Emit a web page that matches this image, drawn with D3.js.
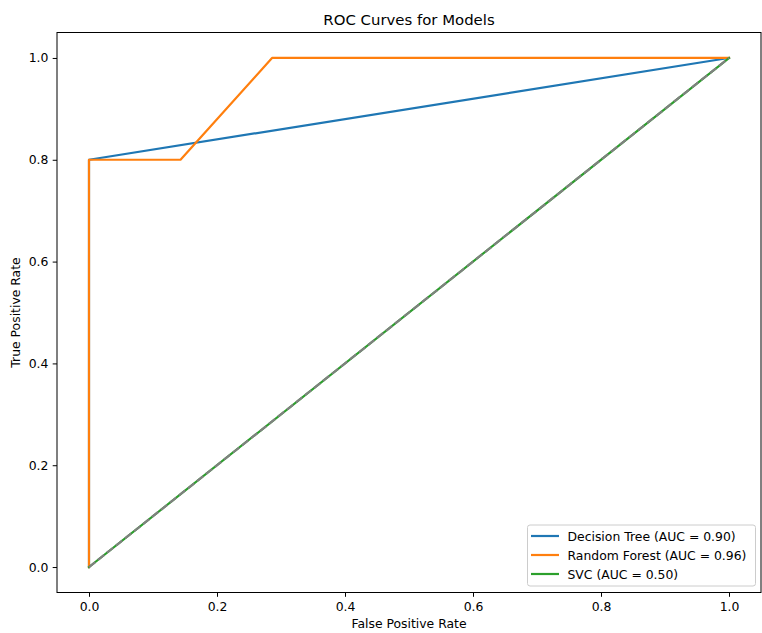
<!DOCTYPE html>
<html>
<head>
<meta charset="utf-8">
<script src="https://cdn.jsdelivr.net/npm/d3@7"></script>
<style>
  body { margin: 0; background: #fff; }
  text { font-family: "DejaVu Sans", sans-serif; fill: #000; }
</style>
</head>
<body>
<svg class="rocSVG" width="762" height="633"></svg>
<script>
// model curves
const modelNames = ['Decision Tree', 'Random Forest', 'SVC'];
const modelAUC = [0.90, 0.96, 0.50];
const modelColors = ['#1f77b4', '#ff7f0e', '#2ca02c'];
const dtFPR = [0, 0, 1];
const dtTPR = [0, 0.8, 1];
const rfFPR = [0, 0, 0.143, 0.286, 1];
const rfTPR = [0, 0.8, 0.8, 1, 1];
const svcFPR = [0, 1];
const svcTPR = [0, 1];
const chanceFPR = [0, 1];
const chanceTPR = [0, 1];
const tickVals = [0, 0.2, 0.4, 0.6, 0.8, 1.0];

const curves = [
  { fpr: dtFPR, tpr: dtTPR },
  { fpr: rfFPR, tpr: rfTPR },
  { fpr: svcFPR, tpr: svcTPR }
];

const margin = { left: 57, right: 1, top: 32.5, bottom: 40.5 };
const width = 762, height = 633;
const fs = 12.4;

const svg = d3.select('svg.rocSVG');

const x = d3.scaleLinear()
    .domain([-0.05, 1.05])
    .range([margin.left, width - margin.right]);

const y = d3.scaleLinear()
    .domain([-0.05, 1.05])
    .range([height - margin.bottom, margin.top]);

const line = d3.line()
    .x(d => x(d[0]))
    .y(d => y(d[1]));

// clip to axes area
svg.append('clipPath').attr('id', 'plotClip')
  .append('rect')
  .attr('x', x(-0.05)).attr('y', y(1.05))
  .attr('width', x(1.05) - x(-0.05))
  .attr('height', y(-0.05) - y(1.05));

const plotGrp = svg.append('g').attr('clip-path', 'url(#plotClip)');

curves.forEach((c, i) => {
  plotGrp.append('path')
    .attr('d', line(c.fpr.map((v, j) => [v, c.tpr[j]])))
    .style('fill', 'none')
    .style('stroke', modelColors[i])
    .style('stroke-width', 2.2)
    .style('stroke-linejoin', 'round')
    .style('stroke-linecap', 'square');
});

// chance line
plotGrp.append('path')
  .attr('d', line(chanceFPR.map((v, j) => [v, chanceTPR[j]])))
  .style('fill', 'none')
  .style('stroke', 'gray')
  .style('stroke-width', 2.2)
  .style('stroke-dasharray', '8,3.5');

// axes
const xAxis = d3.axisBottom(x).tickValues(tickVals).tickFormat(d3.format('.1f')).tickSizeOuter(0).tickSize(4.3).tickPadding(5.5);
const yAxis = d3.axisLeft(y).tickValues(tickVals).tickFormat(d3.format('.1f')).tickSizeOuter(0).tickSize(4.3).tickPadding(4.3);

const gx = svg.append('g')
  .attr('transform', `translate(0, ${height - margin.bottom})`)
  .call(xAxis);
const gy = svg.append('g')
  .attr('transform', `translate(${margin.left}, 0)`)
  .call(yAxis);

[gx, gy].forEach(g => {
  g.select('.domain').remove();
  g.selectAll('.tick line').style('stroke', '#000').style('stroke-width', 1);
  g.selectAll('.tick text')
    .style('font-size', `${fs}px`)
    .style('font-family', '"DejaVu Sans", sans-serif')
    .style('fill', '#000');
});

// frame
svg.append('rect')
  .attr('x', x(-0.05)).attr('y', y(1.05))
  .attr('width', x(1.05) - x(-0.05))
  .attr('height', y(-0.05) - y(1.05))
  .style('fill', 'none')
  .style('stroke', '#000')
  .style('stroke-width', 1);

// titles
svg.append('text')
  .attr('x', (x(-0.05) + x(1.05)) / 2)
  .attr('y', 25)
  .attr('text-anchor', 'middle')
  .style('font-size', '14.9px')
  .text('ROC Curves for Models');

svg.append('text')
  .attr('x', (x(-0.05) + x(1.05)) / 2)
  .attr('y', 628)
  .attr('text-anchor', 'middle')
  .style('font-size', `${fs}px`)
  .text('False Positive Rate');

svg.append('text')
  .attr('transform', `translate(20, ${(y(-0.05) + y(1.05)) / 2}) rotate(-90)`)
  .attr('text-anchor', 'middle')
  .style('font-size', `${fs}px`)
  .text('True Positive Rate');

// legend
const legGrp = svg.append('g').attr('class', 'legendGrp');
legGrp.append('rect')
  .attr('x', 527.5).attr('y', 525)
  .attr('width', 228).attr('height', 61)
  .attr('rx', 2.5)
  .style('fill', '#fff')
  .style('fill-opacity', 0.8)
  .style('stroke', '#ccc')
  .style('stroke-width', 1);

modelNames.forEach((name, i) => {
  const ly = 536 + i * 19;
  legGrp.append('line')
    .attr('x1', 531).attr('x2', 559)
    .attr('y1', ly).attr('y2', ly)
    .style('stroke', modelColors[i])
    .style('stroke-width', 2.2);
  legGrp.append('text')
    .attr('x', 567.5).attr('y', ly + 4.5)
    .style('font-size', `${fs}px`)
    .text(`${name} (AUC = ${modelAUC[i].toFixed(2)})`);
});
</script>
</body>
</html>
